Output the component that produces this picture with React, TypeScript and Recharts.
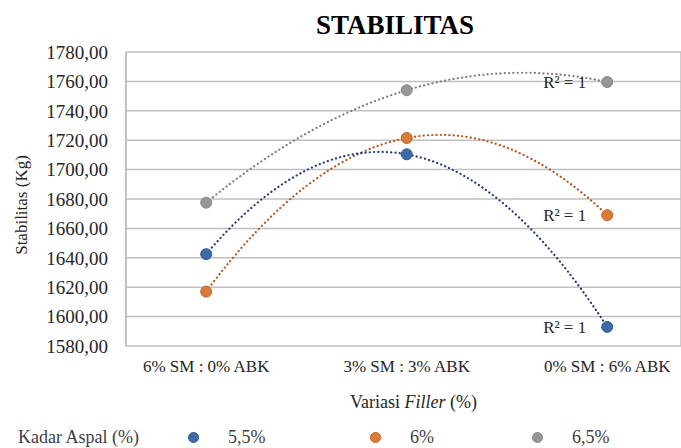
import React from 'react';
import { LineChart, Line, XAxis, YAxis, CartesianGrid, Label } from 'recharts';

/* Stabilitas vs. variasi filler, with 2nd-order trendlines */

const categories = ['6% SM : 0% ABK', '3% SM : 3% ABK', '0% SM : 6% ABK'];
const aspal55 = [1642.5, 1710.4, 1593.0];
const aspal60 = [1617.0, 1721.5, 1669.0];
const aspal65 = [1677.5, 1754.0, 1759.6];
const seriesNames = ['5,5%', '6%', '6,5%'];
const rSquared = ['R² = 1', 'R² = 1', 'R² = 1'];
const yTicks = [1580, 1600, 1620, 1640, 1660, 1680, 1700, 1720, 1740, 1760, 1780];

const SERIF = '"Liberation Serif", "Times New Roman", serif';
const GRID = '#BFBFBF';
const TEXT = '#262626';
const X_DOMAIN = [0.6, 3.368];

const SERIES = [
  { key: 'a55', name: seriesNames[0], r2: rSquared[0], fill: '#3E6AA8', edge: '#2F5A94', trend: '#1F3A78' },
  { key: 'a60', name: seriesNames[1], r2: rSquared[1], fill: '#DB7B38', edge: '#C2621F', trend: '#B4551B' },
  { key: 'a65', name: seriesNames[2], r2: rSquared[2], fill: '#979797', edge: '#878787', trend: '#7F7F7F' },
];

const data = categories.map((cat, i) => ({
  pos: i + 1,
  cat,
  a55: aspal55[i],
  a60: aspal60[i],
  a65: aspal65[i],
}));

// polynomial (order 2) trendline: one quadratic bezier through the three projected points
function polyTrend(context: any) {
  let pts: number[][] = [];
  return {
    areaStart() {},
    areaEnd() {},
    lineStart() {
      pts = [];
    },
    point(x: number, y: number) {
      pts.push([+x, +y]);
    },
    lineEnd() {
      if (pts.length !== 3) {
        pts.forEach((p, i) => (i ? context.lineTo(p[0], p[1]) : context.moveTo(p[0], p[1])));
        return;
      }
      const [[x0, y0], [x1, y1], [x2, y2]] = pts;
      const d0 = (y1 - y0) / (x1 - x0);
      const d1 = (y2 - y1) / (x2 - x1);
      const a = (d1 - d0) / (x2 - x0);
      const slope0 = d0 + a * (x0 - x1);
      const cx = (x0 + x2) / 2;
      const cy = y0 + slope0 * (cx - x0);
      context.moveTo(x0, y0);
      context.quadraticCurveTo(cx, cy, x2, y2);
    },
  };
}

const fmt = (v: number) => v.toFixed(2).replace('.', ',');

const makeDot = (s: (typeof SERIES)[number]) => (props: any) => {
  const { cx, cy, index } = props;
  return (
    <g key={`${s.key}-dot-${index}`}>
      {index === categories.length - 1 && (
        <text
          x={cx - 21}
          y={cy}
          dy="0.35em"
          textAnchor="end"
          fontFamily={SERIF}
          fontSize={17}
          fill={TEXT}
        >
          {s.r2}
        </text>
      )}
      <circle cx={cx} cy={cy} r={5.5} fill={s.fill} stroke={s.edge} strokeWidth={1} />
    </g>
  );
};

const YTitle = (props: any) => {
  const vb = props.viewBox || {};
  const x = 21;
  const y = vb.y + vb.height / 2 + 6;
  return (
    <text
      x={x}
      y={y}
      transform={`rotate(-90, ${x}, ${y})`}
      textAnchor="middle"
      dominantBaseline="central"
      fontFamily={SERIF}
      fontSize={17}
      fill={TEXT}
    >
      Stabilitas (Kg)
    </text>
  );
};

const XTitle = (props: any) => {
  const vb = props.viewBox || {};
  return (
    <text
      x={vb.x + vb.width / 2 + 10}
      y={vb.y + 56}
      textAnchor="middle"
      dominantBaseline="central"
      fontFamily={SERIF}
      fontSize={18}
      fill={TEXT}
    >
      Variasi <tspan fontStyle="italic">Filler</tspan> (%)
    </text>
  );
};

export default function App() {
  return (
    <div style={{ position: 'absolute', left: 0, top: 0, width: 681, height: 448, background: '#fff' }}>
      <div
        style={{
          position: 'absolute',
          left: 0,
          width: 790,
          top: 9,
          textAlign: 'center',
          fontFamily: SERIF,
          fontWeight: 'bold',
          fontSize: 27,
          lineHeight: '32px',
          color: '#000',
        }}
      >
        STABILITAS
      </div>

      <LineChart width={681} height={448} data={data} margin={{ top: 52, right: 0, bottom: 62, left: 0 }}>
        <CartesianGrid stroke={GRID} strokeWidth={1.5} />
        {/* grid axis: gridline positions only */}
        <XAxis
          dataKey="pos"
          type="number"
          domain={X_DOMAIN}
          allowDataOverflow
          ticks={[0.6, 1, 1.4, 1.8, 2.2, 2.6, 3]}
          interval={0}
          height={0}
          tick={false}
          tickLine={false}
          axisLine={{ stroke: GRID, strokeWidth: 1.5 }}
        />
        {/* category axis: labels under each point */}
        <XAxis
          xAxisId="cat"
          dataKey="pos"
          type="number"
          domain={X_DOMAIN}
          allowDataOverflow
          ticks={categories.map((_, i) => i + 1)}
          tickFormatter={(v: number) => categories[v - 1] ?? ''}
          interval={0}
          height={40}
          axisLine={false}
          tickLine={false}
          tickSize={0}
          tickMargin={14}
          tick={{ fontFamily: SERIF, fontSize: 17, fill: TEXT }}
        >
          <Label content={<XTitle />} />
        </XAxis>
        <YAxis
          domain={[1580, 1780]}
          ticks={yTicks}
          interval={0}
          width={126}
          tickLine={false}
          tickSize={0}
          tickMargin={18}
          tickFormatter={fmt}
          axisLine={{ stroke: GRID, strokeWidth: 1.5 }}
          tick={{ fontFamily: SERIF, fontSize: 19, fill: TEXT }}
        >
          <Label content={<YTitle />} />
        </YAxis>
        {SERIES.slice()
          .reverse()
          .map((s) => (
            <Line
              key={s.key}
              dataKey={s.key}
              name={s.name}
              type={polyTrend as any}
              stroke={s.trend}
              strokeWidth={2.2}
              strokeDasharray="0.1 4.2"
              strokeLinecap="round"
              dot={makeDot(s)}
              activeDot={false}
              isAnimationActive={false}
            />
          ))}
      </LineChart>

      <div
        style={{
          position: 'absolute',
          left: 18,
          top: 426,
          height: 22,
          display: 'flex',
          alignItems: 'center',
          fontFamily: SERIF,
          fontSize: 18,
          color: '#404040',
          whiteSpace: 'nowrap',
        }}
      >
        <span style={{ width: 170 }}>Kadar Aspal (%)</span>
        {SERIES.map((s) => (
          <span key={s.key} style={{ display: 'flex', alignItems: 'center', width: s.key === 'a60' ? 162 : 182 }}>
            <svg width={11} height={11} style={{ marginRight: 29 }}>
              <circle cx={5.5} cy={5.5} r={5} fill={s.fill} stroke={s.edge} strokeWidth={1} />
            </svg>
            {s.name}
          </span>
        ))}
      </div>
    </div>
  );
}
